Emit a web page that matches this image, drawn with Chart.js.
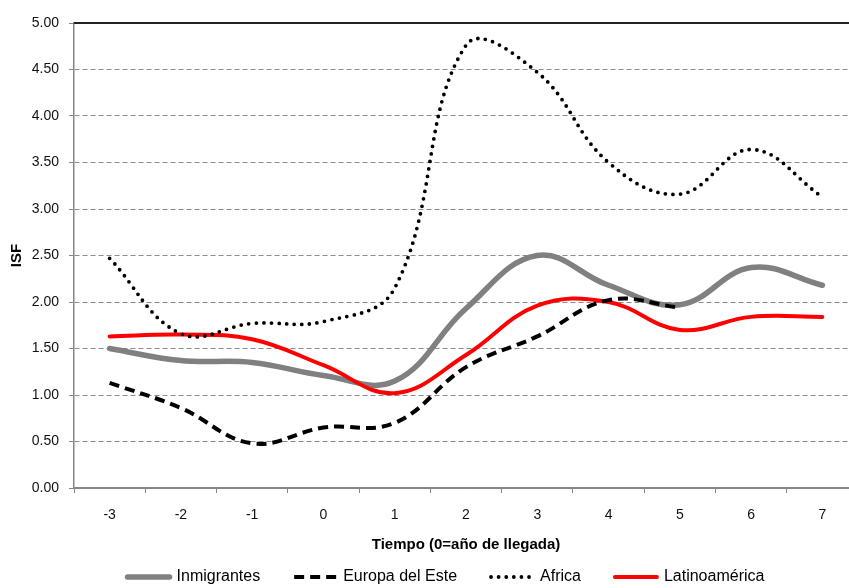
<!DOCTYPE html>
<html>
<head>
<meta charset="utf-8">
<script src="https://cdn.jsdelivr.net/npm/chart.js@4"></script>
<style>
  html, body { margin: 0; padding: 0; background: #fff; overflow: hidden; }
  #wrap { position: relative; width: 870px; height: 588px; }
</style>
</head>
<body>
<div id="wrap"><canvas id="isf-chart"></canvas></div>
<script>
const years = ['-3', '-2', '-1', '0', '1', '2', '3', '4', '5', '6', '7'];
const inmigrantes = [1.50, 1.37, 1.35, 1.21, 1.15, 1.93, 2.50, 2.18, 1.97, 2.37, 2.18];
const europaEste = [1.13, 0.86, 0.48, 0.65, 0.70, 1.30, 1.63, 2.02, 1.94, null, null];
const africa = [2.47, 1.66, 1.77, 1.79, 2.15, 4.76, 4.47, 3.50, 3.16, 3.64, 3.13];
const latinoamerica = [1.63, 1.65, 1.60, 1.32, 1.02, 1.43, 1.96, 2.00, 1.70, 1.84, 1.84];
const yTicks = [0, 0.5, 1, 1.5, 2, 2.5, 3, 3.5, 4, 4.5, 5];

const font = '"Liberation Sans", Arial, sans-serif';
const axisGrey = '#868686';

// legend drawn by hand so the dashes and dots show in the samples
const lineLegend = {
  id: 'lineLegend',
  afterDraw(chart) {
    const ctx = chart.ctx;
    const sampleW = 46, gap = 5, spacing = 32, cy = 577, centre = 445;
    ctx.save();
    ctx.font = '16px ' + font;
    ctx.textBaseline = 'middle';
    const sets = chart.data.datasets;
    const widths = sets.map(d => sampleW + gap + ctx.measureText(d.label).width);
    const total = widths.reduce((a, b) => a + b, 0) + spacing * (sets.length - 1);
    let x = centre - total / 2;
    sets.forEach((d, i) => {
      ctx.strokeStyle = d.borderColor;
      ctx.lineWidth = d.borderWidth;
      ctx.lineCap = d.borderCapStyle || 'butt';
      ctx.setLineDash(d.borderDash || []);
      ctx.beginPath();
      ctx.moveTo(x + 2, cy);
      ctx.lineTo(x + sampleW - 2, cy);
      ctx.stroke();
      ctx.setLineDash([]);
      ctx.fillStyle = '#000';
      ctx.fillText(d.label, x + sampleW + gap, cy);
      x += widths[i] + spacing;
    });
    ctx.restore();
  }
};

// solid dark line along the top of the plot
const topLine = {
  id: 'topLine',
  afterDraw(chart) {
    const {ctx, chartArea} = chart;
    ctx.save();
    ctx.strokeStyle = '#222';
    ctx.lineWidth = 1.8;
    ctx.beginPath();
    ctx.moveTo(chartArea.left, chartArea.top);
    ctx.lineTo(chartArea.right + 20, chartArea.top);
    ctx.stroke();
    ctx.restore();
  }
};

const ctx = document.getElementById('isf-chart').getContext('2d');
const chart = new Chart(ctx, {
  type: 'line',
  data: {
    labels: years,
    datasets: [
      {
        label: 'Inmigrantes',
        data: inmigrantes,
        borderColor: '#808080',
        backgroundColor: '#808080',
        borderWidth: 5.5,
        borderCapStyle: 'round',
        order: 4
      },
      {
        label: 'Europa del Este',
        data: europaEste,
        borderColor: '#000',
        backgroundColor: '#000',
        borderWidth: 4,
        borderDash: [10, 6],
        order: 2
      },
      {
        label: 'Africa',
        data: africa,
        borderColor: '#000',
        backgroundColor: '#000',
        borderWidth: 3.8,
        borderDash: [0, 7.6],
        borderCapStyle: 'round',
        order: 1
      },
      {
        label: 'Latinoamérica',
        data: latinoamerica,
        borderColor: '#ff0000',
        backgroundColor: '#ff0000',
        borderWidth: 4,
        borderCapStyle: 'round',
        order: 3
      }
    ]
  },
  options: {
    responsive: true,
    maintainAspectRatio: false,
    animation: false,
    layout: { padding: { top: 23, right: 12, bottom: 30, left: 0 } },
    elements: {
      point: { radius: 0, hoverRadius: 0 },
      line: { tension: 0.4 }
    },
    plugins: {
      tooltip: { enabled: false },
      legend: { display: false }
    },
    scales: {
      x: {
        offset: true,
        afterFit: s => { s.height = 70; },
        grid: {
          display: true,
          offset: true,
          drawOnChartArea: false,
          drawTicks: true,
          tickLength: 5,
          color: axisGrey
        },
        border: { display: true, color: axisGrey, width: 1.5 },
        ticks: {
          color: '#111',
          padding: 14,
          font: { family: font, size: 14 }
        },
        title: {
          display: true,
          text: 'Tiempo (0=año de llegada)',
          color: '#000',
          padding: { top: 4, bottom: 4 },
          font: { family: font, size: 15, weight: 'bold' }
        }
      },
      y: {
        min: 0,
        max: 5,
        afterFit: s => { s.width = 74; },
        afterBuildTicks: s => { s.ticks = yTicks.map(v => ({value: v})); },
        grid: {
          drawTicks: true,
          tickLength: 5,
          tickColor: axisGrey,
          color: c => (c.tick && c.tick.value === 0) ? axisGrey : '#8c8c8c',
          lineWidth: 1
        },
        border: {
          display: true,
          color: axisGrey,
          width: 1.5,
          dash: c => (c.tick && c.tick.value > 0 && c.tick.value < 5) ? [5, 3] : []
        },
        ticks: {
          color: '#111',
          padding: 10,
          font: { family: font, size: 14 },
          callback: v => Number(v).toFixed(2)
        },
        title: {
          display: true,
          text: 'ISF',
          color: '#000',
          padding: { top: 8, bottom: 0 },
          font: { family: font, size: 15, weight: 'bold' }
        }
      }
    }
  },
  plugins: [lineLegend, topLine]
});
</script>
</body>
</html>
